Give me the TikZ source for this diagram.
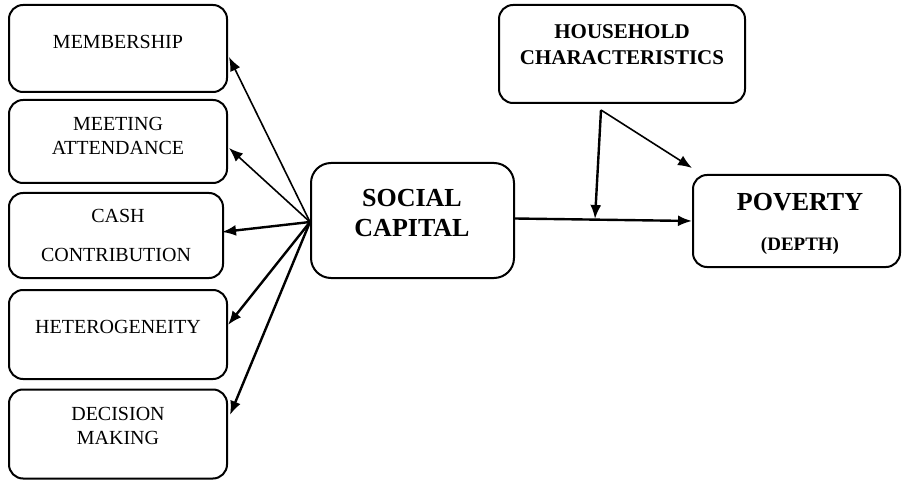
\documentclass[tikz,border=0pt]{standalone}
\usepackage{fontspec}
\setmainfont{Liberation Serif}
\usetikzlibrary{arrows.meta}
\begin{document}
\begin{tikzpicture}[x=1pt,y=-1pt,
  box/.style={draw, line width=2pt, rounded corners=14pt, inner sep=0pt},
  txt/.style={font=\fontsize{20}{24}\selectfont, align=center, inner sep=0pt},
  btxt/.style={font=\bfseries\fontsize{21}{26}\selectfont, align=center, inner sep=0pt},
  bigtxt/.style={font=\bfseries\fontsize{26}{30}\selectfont, align=center, inner sep=0pt},
  arr/.style={line width=1.6pt, -{Latex[length=14pt,width=11pt]}},
  tarr/.style={line width=2.4pt, -{Latex[length=14pt,width=11pt]}}]
\useasboundingbox (0,0) rectangle (902,481);
% left boxes
\node[box, minimum width=218pt, minimum height=87pt] (mem) at (118,48.5) {};
\node[box, minimum width=218pt, minimum height=83pt] (meet) at (118,141.5) {};
\node[box, minimum width=214pt, minimum height=85pt] (cash) at (116,235.5) {};
\node[box, minimum width=218pt, minimum height=89pt] (het) at (118,334.5) {};
\node[box, minimum width=218pt, minimum height=89pt] (dec) at (118,434) {};
\node[txt] (memt) at (118,42) {MEMBERSHIP};
\node[txt] (meett) at (118,136) {MEETING\\ATTENDANCE};
\node[txt] (casht1) at (118,216) {CASH};
\node[txt] (casht2) at (116,255) {CONTRIBUTION};
\node[txt] (hett) at (118,327) {HETEROGENEITY};
\node[txt] (dect) at (118,426) {DECISION\\MAKING};
% social capital
\node[box, minimum width=203pt, minimum height=115pt, rounded corners=20pt] (soc) at (412.5,220.5) {};
\node[bigtxt] (soct) at (412,213) {SOCIAL\\CAPITAL};
% household
\node[box, minimum width=246pt, minimum height=98pt] (hh) at (622,54) {};
\node[btxt] (hht) at (622,45) {HOUSEHOLD\\CHARACTERISTICS};
% poverty
\node[box, minimum width=207pt, minimum height=92pt] (pov) at (796.5,221) {};
\node[bigtxt] (povt) at (800,202) {POVERTY};
\node[btxt, font=\bfseries\fontsize{19}{22}\selectfont] (povd) at (800,246) {(DEPTH)};
% connectors
\coordinate (hub) at (310,222);
\draw[arr] (hub) -- ([yshift=-8.5pt,xshift=1pt]mem.east);
\draw[arr] (hub) -- ([yshift=-6.5pt,xshift=1pt]meet.east);
\draw[tarr] (hub) -- ([yshift=3.5pt,xshift=-2pt]cash.east);
\draw[tarr] (hub) -- ([yshift=9.5pt]het.east);
\draw[tarr] (hub) -- ([yshift=19pt,xshift=2pt]dec.east);
\draw[tarr] ([yshift=2pt]soc.east) -- (pov.west);
\coordinate (hk) at (601,110);
\coordinate (mid) at (595,219);
\draw[tarr] (hk) -- (mid);
\draw[arr] (hk) -- ([yshift=6pt]pov.north west);
\end{tikzpicture}
\end{document}
